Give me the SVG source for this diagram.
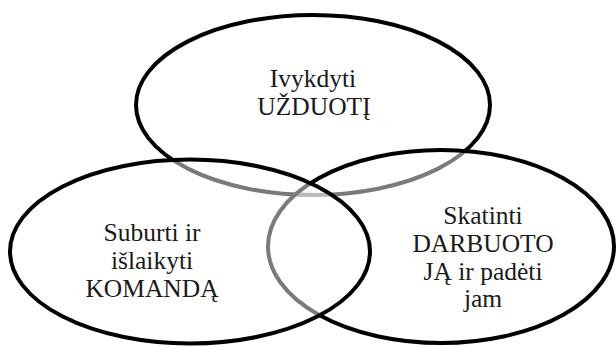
<svg xmlns="http://www.w3.org/2000/svg" width="616" height="347" viewBox="0 0 616 347">
<style>
.c{fill:#fff;fill-opacity:0.48;stroke:#000;stroke-width:4}
</style>
<rect width="616" height="347" fill="#fff"/>
<g font-family="Liberation Serif, DejaVu Serif, serif" font-size="25.5" fill="#1a1a1a" text-anchor="middle">
<g id="top">
<ellipse class="c" cx="313" cy="105" rx="177" ry="90"/>
<text x="313" y="87">Ivykdyti</text>
<text x="314" y="115">UŽDUOTĮ</text>
</g>
<g id="right">
<ellipse class="c" cx="441" cy="246.5" rx="173" ry="96.5"/>
<text x="483" y="224">Skatinti</text>
<text x="483" y="252">DARBUOTO</text>
<text x="483" y="280">JĄ ir padėti</text>
<text x="483" y="307">jam</text>
</g>
<g id="left">
<ellipse class="c" cx="190" cy="251.5" rx="180" ry="92"/>
<text x="152" y="241">Suburti ir</text>
<text x="152" y="269">išlaikyti</text>
<text x="152" y="297">KOMANDĄ</text>
</g>
</g>
<g id="connectors"/>
</svg>
